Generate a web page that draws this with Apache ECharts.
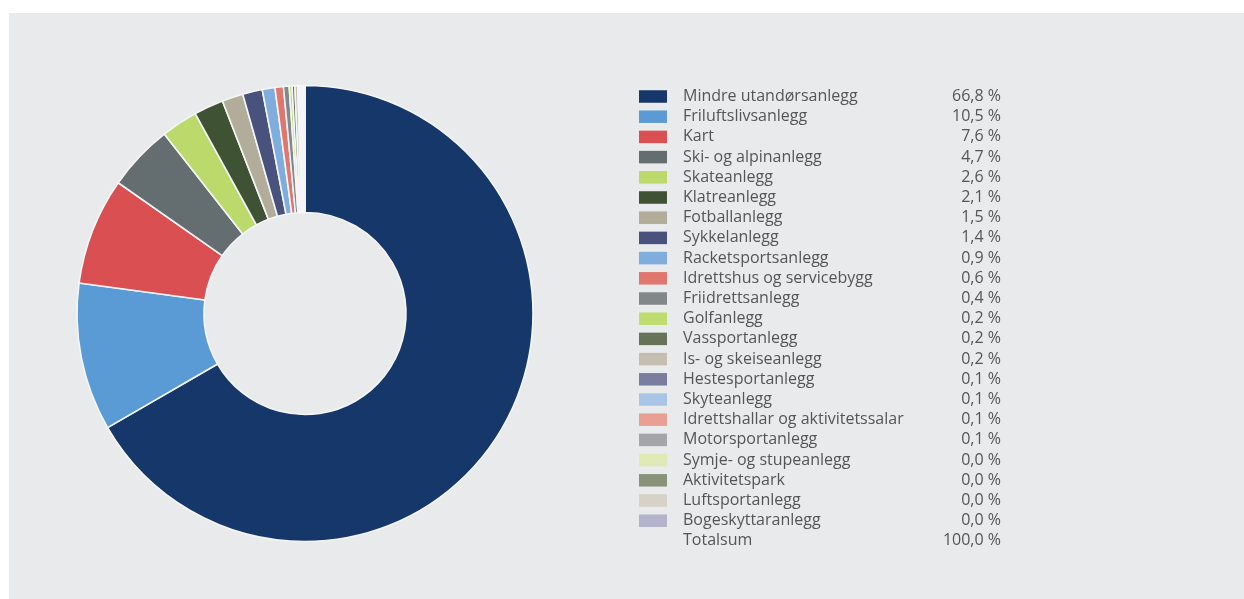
<!DOCTYPE html>
<html>
<head>
<meta charset="utf-8">
<script src="https://cdn.jsdelivr.net/npm/echarts@6/dist/echarts.min.js"></script>
<style>
html,body{margin:0;padding:0;background:#fff;}
#bg{position:absolute;left:9px;top:13px;width:1235px;height:586px;background:#e9eaec;}
#c{position:absolute;left:0;top:0;width:1244px;height:599px;}
</style>
</head>
<body>
<div id="bg"></div>
<div id="c"></div>
<script>
const categories = [
  "Mindre utandørsanlegg","Friluftslivsanlegg","Kart","Ski- og alpinanlegg","Skateanlegg",
  "Klatreanlegg","Fotballanlegg","Sykkelanlegg","Racketsportsanlegg","Idrettshus og servicebygg",
  "Friidrettsanlegg","Golfanlegg","Vassportanlegg","Is- og skeiseanlegg","Hestesportanlegg",
  "Skyteanlegg","Idrettshallar og aktivitetssalar","Motorsportanlegg","Symje- og stupeanlegg",
  "Aktivitetspark","Luftsportanlegg","Bogeskyttaranlegg"
];
const shares = [66.8,10.5,7.6,4.7,2.6,2.1,1.5,1.4,0.9,0.6,0.4,0.2,0.2,0.2,0.1,0.1,0.1,0.1,0.04,0.03,0.02,0.02];
const colors = ["#16376a","#5b9bd5","#d94f52","#646d70","#bcd96c","#3f5233","#b2ad9b","#48527c",
  "#7fadde","#e0766e","#82878a","#bedd6e","#667358","#c5bdaf","#7a7d9e","#a9c5e6","#ea9f94",
  "#a2a6a8","#dfeab6","#8a937a","#d6d2c7","#b3b3cb"];
const totalName = "Totalsum";
const totalShare = 100.0;

const fmt = v => v.toFixed(1).replace('.', ',') + ' %';
const lookup = {};
categories.forEach((c,i)=>lookup[c]=shares[i]);
lookup[totalName] = totalShare;

const data = categories.map((c,i)=>({name:c,value:shares[i],itemStyle:{color:colors[i]}}));
data.push({name:totalName,value:0,itemStyle:{color:'rgba(0,0,0,0)',borderWidth:0}});

const legendData = categories.map(c=>({name:c}));
legendData.push({name:totalName, itemStyle:{opacity:0}});

const chart = echarts.init(document.getElementById('c'));
chart.setOption({
  animation:false,
  legend:{
    orient:'vertical',
    left:634, top:82.5,
    itemWidth:28, itemHeight:12.5,
    itemGap:2.2,
    icon:'rect',
    selectedMode:false,
    itemStyle:{borderWidth:0},
    data: legendData,
    formatter: n => '{a|' + n + '}{b|' + fmt(lookup[n]) + '}',
    textStyle:{
      fontFamily:'Open Sans', fontSize:16, color:'#555555', lineHeight:18,
      rich:{
        a:{fontFamily:'Open Sans', fontSize:16, color:'#555555', width:258, padding:[0,0,0,11], lineHeight:18},
        b:{fontFamily:'Open Sans', fontSize:16, color:'#555555', width:60, align:'right', lineHeight:18}
      }
    }
  },
  series:[{
    type:'pie',
    center:[305,313.5],
    radius:[101,228],
    startAngle:90,
    clockwise:true,
    label:{show:false},
    labelLine:{show:false},
    emphasis:{disabled:true},
    itemStyle:{borderColor:'#f4f5f6', borderWidth:1.6},
    data:data
  }]
});
</script>
</body>
</html>
